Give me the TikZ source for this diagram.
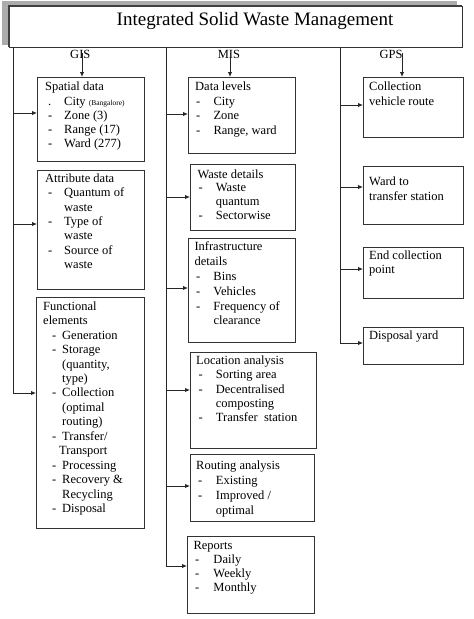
\documentclass[tikz,border=0pt]{standalone}
\usepackage{fontspec}
\setmainfont{Liberation Serif}
\usetikzlibrary{arrows.meta}
\newcommand\Li[3]{\hspace*{#1pt}\makebox[#2pt][l]{#3}}
\newcommand\Ct[1]{\hspace*{#1pt}}
\newcommand\fst{\rule{0pt}{10pt}}
\begin{document}
\begin{tikzpicture}[x=1pt,y=-1pt,
 ln/.style={draw=black!85, line width=0.9pt},
 arr/.style={ln, -{Latex[length=5pt,width=4.5pt]}},
 box/.style={draw=black!80, line width=1pt, anchor=north west, inner sep=0pt, outer sep=0pt},
 txt/.style={inner sep=0pt, anchor=north west, align=left, font=\fontsize{12.5}{#1}\selectfont},
 txt/.default=14.4,
 lab/.style={inner sep=0pt, anchor=base, font=\fontsize{12.5}{14}\selectfont}]
\useasboundingbox (0,0) rectangle (474,619);
% title
\fill[gray!65] (2,0.5) rectangle (457,45);
\node[box, fill=white, minimum width=453pt, minimum height=41pt] (title) at (9,6) {};
\draw[line width=2pt, black!75] (title.south west) -- (title.north west) -- (title.north east);
\node[inner sep=0pt, anchor=base, font=\fontsize{19}{22}\selectfont] (tt) at (255,25.5) {Integrated Solid Waste Management};
% labels
\node[lab] (gis) at (80.3,58.5) {GIS};
\node[lab] (mis) at (229,58.5) {MIS};
\node[lab] (gps) at (391,58.5) {GPS};
% GIS boxes
\node[box, minimum width=107pt, minimum height=84pt] (sp) at (37,77) {};
\node[box, minimum width=107pt, minimum height=119pt] (at) at (37,170) {};
\node[box, minimum width=108pt, minimum height=231pt] (fe) at (36,297) {};
% MIS boxes
\node[box, minimum width=107pt, minimum height=76pt] (dlv) at (188,77) {};
\node[box, minimum width=105pt, minimum height=66pt] (wd) at (190,164) {};
\node[box, minimum width=107pt, minimum height=104pt] (inf) at (188,238) {};
\node[box, minimum width=126pt, minimum height=96pt] (loc) at (190,352) {};
\node[box, minimum width=124pt, minimum height=67pt] (rou) at (190,454) {};
\node[box, minimum width=127pt, minimum height=77pt] (rep) at (187,536) {};
% GPS boxes
\node[box, minimum width=100pt, minimum height=60pt] (cvr) at (363,77) {};
\node[box, minimum width=100pt, minimum height=58pt] (wts) at (363,166) {};
\node[box, minimum width=100pt, minimum height=51pt] (ecp) at (363,247) {};
\node[box, minimum width=100pt, minimum height=37pt] (dy) at (363,327) {};
% texts
\node[txt=14.15] (spt) at (45,80.7) {\fst Spatial data\\
\Li{3}{16}{.}City {\fontsize{7.5}{8}\selectfont (Bangalore)}\\
\Li{3}{16}{-}Zone (3)\\
\Li{3}{16}{-}Range (17)\\
\Li{3}{16}{-}Ward (277)};
\node[txt=14.33] (att) at (45,172.3) {\fst Attribute data\\
\Li{3}{16}{-}Quantum of\\
\Ct{19}waste\\
\Li{3}{16}{-}Type of\\
\Ct{19}waste\\
\Li{3}{16}{-}Source of\\
\Ct{19}waste};
\node[txt=14.45] (fet) at (43,300) {\fst Functional\\
elements\\
\Li{9}{10}{-}Generation\\
\Li{9}{10}{-}Storage\\
\Ct{19}(quantity,\\
\Ct{19}type)\\
\Li{9}{10}{-}Collection\\
\Ct{19}(optimal\\
\Ct{19}routing)\\
\Li{9}{10}{-}Transfer/\\
\Ct{16}Transport\\
\Li{9}{10}{-}Processing\\
\Li{9}{10}{-}Recovery \&\\
\Ct{19}Recycling\\
\Li{9}{10}{-}Disposal};
\node[txt=14.43] (dlvt) at (195,80.7) {\fst Data levels\\
\Li{1}{17.3}{-}City\\
\Li{1}{17.3}{-}Zone\\
\Li{1}{17.3}{-}Range, ward};
\node[txt=13.7] (wdt) at (197.3,168) {\fst Waste details\\
\Li{1}{17.4}{-}Waste\\
\Ct{18.4}quantum\\
\Li{1}{17.4}{-}Sectorwise};
\node[txt=14.8] (inft) at (194.3,240.7) {\fst Infrastructure\\
details\\
\Li{1.7}{17.3}{-}Bins\\
\Li{1.7}{17.3}{-}Vehicles\\
\Li{1.7}{17.3}{-}Frequency of\\
\Ct{19}clearance};
\node[txt=14.4] (loct) at (196,354) {\fst Location analysis\\
\Li{2.3}{17.4}{-}Sorting area\\
\Li{2.3}{17.4}{-}Decentralised\\
\Ct{19.7}composting\\
\Li{2.3}{17.4}{-}Transfer\ \ station};
\node[txt=14.7] (rout) at (196,459.7) {\fst Routing analysis\\
\Li{2}{17.7}{-}Existing\\
\Li{2}{17.7}{-}Improved /\\
\Ct{19.7}optimal};
\node[txt=14.2] (rept) at (193.3,539) {\fst Reports\\
\Li{1.7}{18.3}{-}Daily\\
\Li{1.7}{18.3}{-}Weekly\\
\Li{1.7}{18.3}{-}Monthly};
\node[txt=14.5] (cvrt) at (369,80.7) {\fst Collection\\vehicle route};
\node[txt=14.5] (wtst) at (369,175.7) {\fst Ward to\\transfer station};
\node[txt=14.5] (ecpt) at (369,249) {\fst End collection\\point};
\node[txt] (dyt) at (369,329.7) {\fst Disposal yard};
% trunks
\coordinate (gT) at (13,47);
\coordinate (mT) at (166,47);
\coordinate (pT) at (340,47);
\draw[arr] (gT) |- (fe.west |- 0,393);
\draw[arr] (mT) |- (rep.west |- 0,566);
\draw[arr] (pT) |- (dy.west |- 0,343);
% arrows from labels
\draw[arr] (82,53) -- (sp.north -| 82,0);
\draw[arr] (230,53) -- (dlv.north -| 230,0);
\draw[arr] (402,53) -- (cvr.north -| 402,0);
% branch arrows
\draw[arr] (gT |- 0,113) -- (sp.west |- 0,113);
\draw[arr] (gT |- 0,224) -- (at.west |- 0,224);
\draw[arr] (mT |- 0,114) -- (dlv.west |- 0,114);
\draw[arr] (mT |- 0,197) -- (wd.west |- 0,197);
\draw[arr] (mT |- 0,288) -- (inf.west |- 0,288);
\draw[arr] (mT |- 0,390) -- (loc.west |- 0,390);
\draw[arr] (mT |- 0,486) -- (rou.west |- 0,486);
\draw[arr] (pT |- 0,105) -- (cvr.west |- 0,105);
\draw[arr] (pT |- 0,187) -- (wts.west |- 0,187);
\draw[arr] (pT |- 0,269) -- (ecp.west |- 0,269);
\end{tikzpicture}
\end{document}
